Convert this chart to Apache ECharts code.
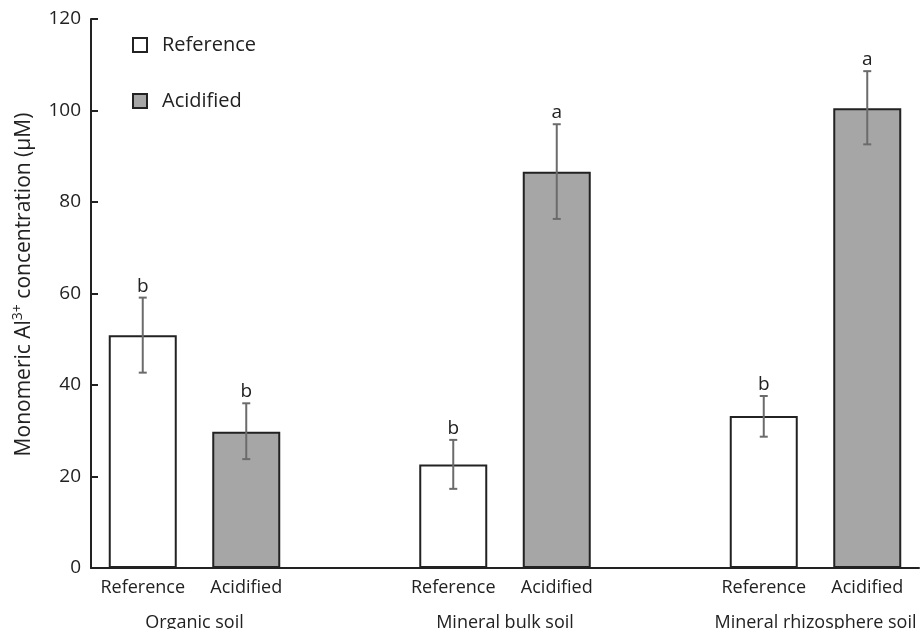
<!DOCTYPE html>
<html>
<head>
<meta charset="utf-8">
<script src="https://cdn.jsdelivr.net/npm/echarts@6/dist/echarts.min.js"></script>
<style>
  html, body { margin: 0; padding: 0; background: #fff; }
  #main { width: 922px; height: 629px; }
</style>
</head>
<body>
<div id="main"></div>
<script>
// data
var groups = ['Organic soil', 'Mineral bulk soil', 'Mineral rhizosphere soil'];
var slotLabels = ['Reference', 'Acidified', '', 'Reference', 'Acidified', '', 'Reference', 'Acidified'];

var refMean = [50.9, 22.6, 33.2];
var refLow = [42.7, 17.3, 28.7];
var refHigh = [59.1, 28.0, 37.6];
var refLetter = ['b', 'b', 'b'];

var acidMean = [29.8, 86.6, 100.5];
var acidLow = [23.8, 76.3, 92.6];
var acidHigh = [36.0, 97.0, 108.6];
var acidLetter = ['b', 'a', 'a'];

var yTicks = [0, 20, 40, 60, 80, 100, 120];

var FONT = 'Open Sans';

// place each group's values on the 8 category slots (ref at 3g, acid at 3g+1)
function toSlots(vals, offset) {
    var out = slotLabels.map(function(){ return null; });
    vals.forEach(function(v, g){ out[g * 3 + offset] = v; });
    return out;
}

var errData = [];
groups.forEach(function(g, i){
    errData.push([i * 3, refLow[i], refHigh[i], refLetter[i]]);
    errData.push([i * 3 + 1, acidLow[i], acidHigh[i], acidLetter[i]]);
});

var chart = echarts.init(document.getElementById('main'));

var option = {
    animation: false,
    textStyle: { fontFamily: FONT },
    grid: { left: 91, right: 3, top: 19, bottom: 61, containLabel: false, outerBoundsMode: 'none' },
    legend: {
        orient: 'vertical',
        left: 127,
        top: 30,
        itemWidth: 14,
        itemHeight: 14,
        itemGap: 36,
        icon: 'rect',
        textStyle: { fontSize: 20, color: '#222', fontFamily: FONT, padding: [0, 0, 0, 10] },
        data: ['Reference', 'Acidified']
    },
    xAxis: [
        {
            type: 'category',
            data: slotLabels,
            axisLine: { lineStyle: { color: '#222', width: 2 } },
            axisTick: { show: false },
            axisLabel: { fontSize: 18, color: '#222', margin: 11, interval: 0 }
        },
        {
            // group names, centred between the two bars of each group
            type: 'value',
            position: 'bottom',
            offset: 38,
            min: -0.5,
            max: 7.5,
            interval: 1,
            axisLine: { show: false },
            axisTick: { show: false },
            splitLine: { show: false },
            axisLabel: {
                fontSize: 18, color: '#222',
                showMinLabel: false, showMaxLabel: false,
                formatter: function(v){
                    var k = Math.round(v - 0.5);
                    if (Math.abs(v - 0.5 - k) < 1e-6 && k % 3 === 0) return groups[k / 3];
                    return '';
                }
            }
        }
    ],
    yAxis: {
        type: 'value',
        min: yTicks[0],
        max: yTicks[yTicks.length - 1],
        interval: 20,
        name: '{t|Monomeric Al}{s|3+}{t| concentration (\u03bcM)}',
        nameLocation: 'middle',
        nameGap: 48,
        nameTextStyle: {
            color: '#222',
            padding: [0, 0, 0, 18],
            rich: {
                t: { fontSize: 21, fontFamily: FONT, color: '#222', lineHeight: 28 },
                s: { fontSize: 14, fontFamily: FONT, color: '#222', lineHeight: 28, padding: [0, 0, 12, 0] }
            }
        },
        axisLine: { show: true, onZero: false, lineStyle: { color: '#222', width: 2 } },
        axisTick: { show: true, inside: true, length: 7, lineStyle: { color: '#222', width: 2 } },
        axisLabel: { fontSize: 19, color: '#222', margin: 10 },
        splitLine: { show: false }
    },
    series: [
        {
            name: 'Reference',
            type: 'bar',
            data: toSlots(refMean, 0),
            barWidth: 68,
            barGap: '-100%',
            itemStyle: { color: '#ffffff', borderColor: '#222', borderWidth: 2 }
        },
        {
            name: 'Acidified',
            type: 'bar',
            data: toSlots(acidMean, 1),
            barWidth: 68,
            barGap: '-100%',
            itemStyle: { color: '#a6a6a6', borderColor: '#222', borderWidth: 2 }
        },
        {
            name: 'err',
            type: 'custom',
            data: errData,
            encode: { x: 0, y: [1, 2] },
            z: 5,
            renderItem: function(params, api){
                var x = api.value(0);
                var lo = api.coord([x, api.value(1)]);
                var hi = api.coord([x, api.value(2)]);
                var cap = 4;
                var st = { stroke: '#6b6b6b', lineWidth: 2 };
                return {
                    type: 'group',
                    children: [
                        { type: 'line', shape: { x1: lo[0], y1: lo[1], x2: hi[0], y2: hi[1] }, style: st },
                        { type: 'line', shape: { x1: lo[0] - cap, y1: lo[1], x2: lo[0] + cap, y2: lo[1] }, style: st },
                        { type: 'line', shape: { x1: hi[0] - cap, y1: hi[1], x2: hi[0] + cap, y2: hi[1] }, style: st },
                        { type: 'text', style: {
                            text: errData[params.dataIndex][3],
                            x: hi[0], y: hi[1] - 2,
                            align: 'center', verticalAlign: 'bottom',
                            fontSize: 19, fontFamily: FONT, fill: '#222'
                        } }
                    ]
                };
            }
        }
    ]
};

chart.setOption(option);
</script>
</body>
</html>
